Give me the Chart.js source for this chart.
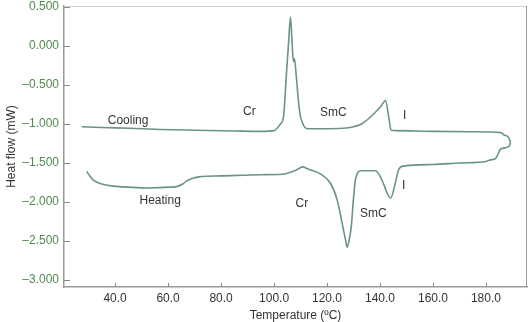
<!DOCTYPE html>
<html lang="en">
<head>
    <meta charset="UTF-8">
    <title>DSC thermogram</title>
    <script src="https://cdn.jsdelivr.net/npm/chart.js"></script>
    <style>
        body { margin: 0; padding: 0; background: #fff; }
        #wrap { width: 531px; height: 322px; }
    </style>
</head>
<body>
    <div id="wrap"><canvas id="grafico"></canvas></div>

    <script>
        // cooling run (temperature ºC, heat flow mW)
        const coolT = [27.4, 35, 45, 57, 70, 85, 95, 100, 102.4, 103.6, 104.6, 105.5, 106.2, 106.8, 107.3, 107.7, 108.3, 109.2, 109.9, 110.8, 111.8, 113, 120, 126, 130, 133, 136.4, 140.2, 142.1, 143.3, 144.2, 146, 160, 175, 185.6, 186.8, 188.7, 189.3];
        const coolHF = [-1.035, -1.045, -1.055, -1.07, -1.08, -1.09, -1.095, -1.085, -1.0, -0.9, -0.4, 0.05, 0.37, 0.05, -0.2, -0.16, -0.35, -0.7, -0.89, -0.99, -1.05, -1.06, -1.06, -1.055, -1.035, -1.0, -0.91, -0.78, -0.7, -0.91, -1.08, -1.085, -1.095, -1.1, -1.11, -1.14, -1.18, -1.24];

        // heating run
        const heatT = [29.3, 30.5, 31.8, 35, 38, 44.4, 52, 60.8, 63.5, 65.5, 67, 69, 72, 80, 95, 103, 108.4, 110.7, 113, 117.5, 121.3, 123.8, 125.7, 127, 127.6, 128.3, 129.2, 130, 130.7, 131.5, 132.6, 138.3, 140.2, 141.5, 142.5, 144, 145.5, 146.3, 147, 148.5, 160, 170, 180, 181.8, 183.7, 185.6, 188.6, 189.3];
        const heatHF = [-1.61, -1.67, -1.72, -1.77, -1.79, -1.81, -1.82, -1.81, -1.8, -1.77, -1.73, -1.7, -1.675, -1.665, -1.65, -1.645, -1.59, -1.55, -1.58, -1.64, -1.76, -1.97, -2.27, -2.49, -2.58, -2.5, -2.3, -1.95, -1.72, -1.63, -1.6, -1.6, -1.68, -1.78, -1.87, -1.95, -1.8, -1.68, -1.59, -1.54, -1.52, -1.5, -1.48, -1.46, -1.44, -1.32, -1.29, -1.24];

        const xTicks = [40, 60, 80, 100, 120, 140, 160, 180];
        const yTicks = [0.5, 0, -0.5, -1, -1.5, -2, -2.5, -3];

        // annotations
        const labelText = ["Cooling", "Cr", "SmC", "I", "Heating", "Cr", "SmC", "I"];
        const labelT = [44.9, 90.7, 122.4, 149.3, 57, 110.5, 137.5, 148.9];
        const labelHF = [-0.955, -0.846, -0.86, -0.89, -1.987, -2.026, -2.147, -1.795];

        const colorLinea = "#6b9483";
        const fuente = "'Liberation Sans', Arial, sans-serif";

        function puntos(xs, ys) {
            return xs.map((x, i) => ({ x: x, y: ys[i] }));
        }

        const marcasYTextos = {
            id: "marcasYTextos",
            afterDraw(chart) {
                const ctx = chart.ctx;
                const xs = chart.scales.x;
                const ys = chart.scales.y;
                const area = chart.chartArea;
                ctx.save();
                // top and right frame
                ctx.strokeStyle = "#d0d0d0";
                ctx.lineWidth = 1;
                ctx.beginPath();
                ctx.moveTo(area.left, area.top + 0.5);
                ctx.lineTo(area.right, area.top + 0.5);
                ctx.stroke();
                ctx.strokeStyle = "#9a9a9a";
                ctx.beginPath();
                ctx.moveTo(area.right - 0.5, area.top);
                ctx.lineTo(area.right - 0.5, area.bottom);
                ctx.stroke();
                // inward tick marks
                ctx.strokeStyle = "#8a8a8a";
                ctx.lineWidth = 1;
                xTicks.forEach(t => {
                    const px = Math.round(xs.getPixelForValue(t)) + 0.5;
                    ctx.beginPath();
                    ctx.moveTo(px, area.bottom);
                    ctx.lineTo(px, area.bottom - 4);
                    ctx.stroke();
                });
                yTicks.forEach(t => {
                    const py = Math.round(ys.getPixelForValue(t)) + 0.5;
                    ctx.beginPath();
                    ctx.moveTo(area.left, py);
                    ctx.lineTo(area.left + 6, py);
                    ctx.stroke();
                });
                // text labels
                ctx.fillStyle = "#333";
                ctx.font = "12px " + fuente;
                ctx.textAlign = "center";
                ctx.textBaseline = "middle";
                labelText.forEach((txt, i) => {
                    ctx.fillText(txt, xs.getPixelForValue(labelT[i]), ys.getPixelForValue(labelHF[i]));
                });
                ctx.restore();
            }
        };

        const ctx = document.getElementById("grafico").getContext("2d");
        new Chart(ctx, {
            type: "line",
            data: {
                datasets: [
                    {
                        label: "Cooling",
                        data: puntos(coolT, coolHF),
                        borderColor: colorLinea,
                        borderWidth: 1.6,
                        pointRadius: 0,
                        cubicInterpolationMode: "monotone",
                        fill: false
                    },
                    {
                        label: "Heating",
                        data: puntos(heatT, heatHF),
                        borderColor: colorLinea,
                        borderWidth: 1.6,
                        pointRadius: 0,
                        cubicInterpolationMode: "monotone",
                        fill: false
                    }
                ]
            },
            options: {
                responsive: true,
                maintainAspectRatio: false,
                animation: false,
                layout: { padding: { top: 6, right: 4, left: 0, bottom: 0 } },
                plugins: {
                    legend: { display: false },
                    tooltip: { enabled: false }
                },
                scales: {
                    x: {
                        type: "linear",
                        min: 20.7,
                        max: 195.5,
                        afterBuildTicks: s => { s.ticks = xTicks.map(v => ({ value: v })); },
                        afterFit: s => { s.height = 35; s.paddingLeft = 0; s.paddingRight = 0; },
                        grid: { drawOnChartArea: false, drawTicks: false },
                        border: { display: true, color: "#9a9a9a", width: 1.5 },
                        ticks: {
                            padding: 4,
                            color: "#333",
                            maxRotation: 0,
                            font: { family: fuente, size: 12 },
                            callback: v => v.toFixed(1)
                        },
                        title: {
                            display: true,
                            text: "Temperature (ºC)",
                            color: "#333",
                            padding: { top: 0, bottom: 0 },
                            font: { family: fuente, size: 12, lineHeight: 1 }
                        }
                    },
                    y: {
                        min: -3.09,
                        max: 0.513,
                        afterBuildTicks: s => { s.ticks = yTicks.map(v => ({ value: v })); },
                        afterFit: s => { s.width = 64; s.paddingTop = 0; s.paddingBottom = 0; },
                        grid: { drawOnChartArea: false, drawTicks: false },
                        border: { display: true, color: "#9a9a9a", width: 1.5 },
                        ticks: {
                            padding: 5,
                            color: "#4f8a4f",
                            font: { family: fuente, size: 12 },
                            callback: v => v.toFixed(3).replace("-", "\u2013")
                        },
                        title: {
                            display: true,
                            text: "Heat flow (mW)",
                            color: "#333",
                            padding: { top: 4, bottom: 0 },
                            font: { family: fuente, size: 12 }
                        }
                    }
                }
            },
            plugins: [marcasYTextos]
        });
    </script>
</body>
</html>
